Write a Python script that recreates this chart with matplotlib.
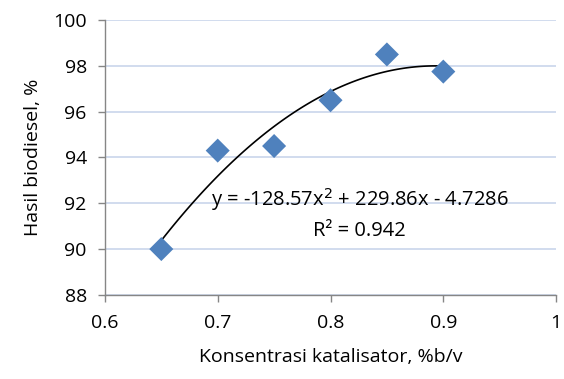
import matplotlib.pyplot as plt
import numpy as np

plt.rcParams['font.family'] = ['Open Sans', 'DejaVu Sans']

# Data
konsentrasi = [0.65, 0.70, 0.75, 0.80, 0.85, 0.90]
hasil = [90.0, 94.3, 94.5, 96.5, 98.5, 97.75]
x_ticks = [0.6, 0.7, 0.8, 0.9, 1.0]
x_labels = ['0.6', '0.7', '0.8', '0.9', '1']
y_ticks = [88, 90, 92, 94, 96, 98, 100]

fig = plt.figure(figsize=(5.64, 3.79), dpi=100)
ax = fig.add_axes([0.186, 0.222, 0.80, 0.725])

# polynomial (order 2) trendline fitted on the data
coef = np.polyfit(konsentrasi, hasil, 2)
xs = np.linspace(min(konsentrasi), max(konsentrasi), 100)
ax.plot(xs, np.polyval(coef, xs), color='black', linewidth=1.2, zorder=2)

ax.scatter(konsentrasi, hasil, marker='D', s=150, color='#4F81BD',
           edgecolors='none', zorder=3)

ax.text(0.826, 92.15, 'y = -128.57x$^2$ + 229.86x - 4.7286', ha='center',
        va='center', fontsize=14.5)
ax.text(0.826, 90.8, 'R² = 0.942', ha='center', va='center', fontsize=14.5)

ax.set_xlim(0.6, 1.0)
ax.set_ylim(88, 100)
ax.set_xticks(x_ticks)
ax.set_xticklabels(x_labels)
ax.set_yticks(y_ticks)
ax.tick_params(labelsize=14, color='#868686', length=5, width=1)
ax.tick_params(axis='x', pad=9)
ax.tick_params(axis='y', pad=8)

ax.grid(axis='y', color='#C9D6EB', linewidth=1.2)
ax.set_axisbelow(True)
for side in ['top', 'right']:
    ax.spines[side].set_visible(False)
for side in ['left', 'bottom']:
    ax.spines[side].set_color('#868686')
    ax.spines[side].set_linewidth(1)

ax.set_xlabel('Konsentrasi katalisator, %b/v', fontsize=14, labelpad=11)
ax.set_ylabel('Hasil biodiesel, %', fontsize=14, labelpad=8)

plt.savefig('out.png', dpi=100)
